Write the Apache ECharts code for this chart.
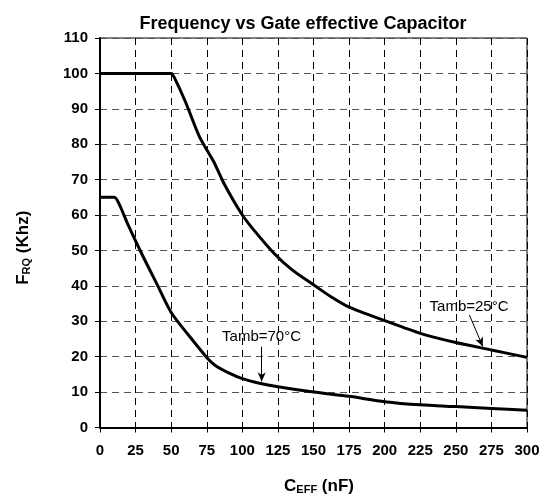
<!DOCTYPE html>
<html>
<head>
<meta charset="utf-8">
<script src="https://cdn.jsdelivr.net/npm/echarts@6/dist/echarts.min.js"></script>
<style>
  html, body { margin: 0; padding: 0; background: #fff; }
  #chart { width: 539px; height: 497px; }
</style>
</head>
<body>
<div id="chart"></div>
<script>
// curves: capacitance (nF) -> frequency (kHz)
let t25x = [0, 50, 52, 60, 70, 80, 87, 100, 108, 122, 135, 150, 162, 175, 200, 225, 250, 275, 300];
let t25y = [100, 100, 99, 92, 82, 75, 69, 60, 55.8, 49.3, 44.5, 40.3, 37, 34, 30.2, 26.6, 24, 21.9, 19.8];

let t70x = [0, 10, 13, 20, 30, 40, 50, 63, 75, 81, 90, 100, 112, 125, 150, 175, 200, 225, 250, 275, 300];
let t70y = [65, 65, 63.5, 57, 48.5, 40.5, 32.5, 25.7, 19.8, 17.5, 15.5, 13.8, 12.5, 11.5, 10, 8.8, 7.3, 6.4, 5.9, 5.4, 4.9];

// annotation labels and arrows, in data units
let lbl70 = { text: 'Tamb=70°C', at: [113.5, 25.6], from: [113.6, 22.8], to: [113.6, 13.0] };
let lbl25 = { text: 'Tamb=25°C', at: [259.3, 34.2], from: [259.5, 31.8], to: [268.9, 22.9] };

let chart = echarts.init(document.getElementById('chart'));
let font = 'Liberation Sans, Arial, sans-serif';

function pairs(xs, ys) {
    return xs.map((x, i) => [x, ys[i]]);
}

function note(l) {
    return {
        markPoint: {
            symbol: 'circle',
            symbolSize: 0,
            silent: true,
            itemStyle: { color: 'rgba(0,0,0,0)' },
            label: { show: true, position: 'inside', color: '#000', fontFamily: font, fontSize: 15 },
            data: [{ coord: l.at, value: l.text, label: { formatter: l.text } }]
        },
        markLine: {
            silent: true,
            symbol: ['none', 'arrow'],
            symbolSize: [6, 9],
            label: { show: false },
            lineStyle: { color: '#000', width: 1, type: 'solid' },
            data: [[{ coord: l.from }, { coord: l.to }]]
        }
    };
}

let bold = { fontFamily: font, fontWeight: 'bold', color: '#000' };

let option = {
    animation: false,
    backgroundColor: '#fff',
    title: {
        text: 'Frequency vs Gate effective Capacitor',
        left: 298,
        top: 10,
        textAlign: 'center',
        textStyle: Object.assign({ fontSize: 18 }, bold)
    },
    grid: { left: 100, right: 12, top: 38, bottom: 69.5, show: true, borderColor: '#000', borderWidth: 1, outerBoundsMode: 'none', containLabel: false },
    xAxis: {
        type: 'value',
        min: 0, max: 300, interval: 25,
        name: '{b|C}{s|EFF}{b| (nF)}',
        nameLocation: 'middle',
        nameGap: 50,
        nameTextStyle: {
            padding: [0, 0, 0, 11],
            rich: {
                b: Object.assign({ fontSize: 17 }, bold),
                s: Object.assign({ fontSize: 11, verticalAlign: 'bottom', padding: [7, 0, 0, 0] }, bold)
            }
        },
        axisLine: { lineStyle: { color: '#000', width: 2 } },
        axisTick: { show: true, length: 5, lineStyle: { color: '#000', width: 1 } },
        axisLabel: Object.assign({ margin: 16, fontSize: 15 }, bold),
        splitLine: { show: true, lineStyle: { color: '#000', width: 1, type: [7, 5] } }
    },
    yAxis: {
        type: 'value',
        min: 0, max: 110, interval: 10,
        name: '{b|F}{s|RQ}{b| (Khz)}',
        nameLocation: 'middle',
        nameRotate: 90,
        nameGap: 68,
        nameTextStyle: {
            padding: [0, 30, 0, 0],
            rich: {
                b: Object.assign({ fontSize: 17 }, bold),
                s: Object.assign({ fontSize: 11, verticalAlign: 'bottom', padding: [7, 0, 0, 0] }, bold)
            }
        },
        axisLine: { show: true, lineStyle: { color: '#000', width: 2 } },
        axisTick: { show: true, length: 5, lineStyle: { color: '#000', width: 1 } },
        axisLabel: Object.assign({ margin: 12, fontSize: 15 }, bold),
        splitLine: { show: true, lineStyle: { color: '#555', width: 1, type: [7, 5] } }
    },
    series: [
        Object.assign({
            name: 'Tamb=25°C',
            type: 'line',
            data: pairs(t25x, t25y),
            symbol: 'none',
            smooth: 0.25,
            lineStyle: { color: '#000', width: 3 }
        }, note(lbl25)),
        Object.assign({
            name: 'Tamb=70°C',
            type: 'line',
            data: pairs(t70x, t70y),
            symbol: 'none',
            smooth: 0.25,
            lineStyle: { color: '#000', width: 3 }
        }, note(lbl70))
    ]
};

chart.setOption(option);
</script>
</body>
</html>
